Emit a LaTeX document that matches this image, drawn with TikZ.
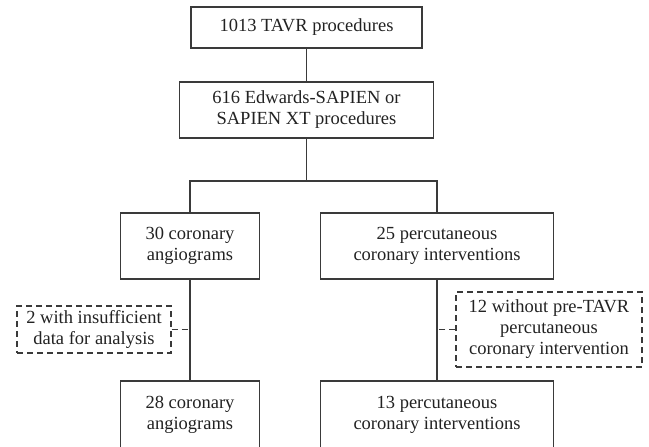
\documentclass[tikz,border=0pt]{standalone}
\usepackage{fontspec}
\setmainfont{Liberation Serif}
\definecolor{linegray}{HTML}{3A3A3A}
\definecolor{txtgray}{HTML}{222222}
\begin{document}
\begin{tikzpicture}[x=1pt,y=-1pt,
  every node/.style={font=\fontsize{18.5}{21}\selectfont, text=txtgray, align=center, inner sep=0pt},
  box/.style={draw=linegray, line width=1.1pt},
  dbox/.style={draw=linegray, line width=1.1pt, dash pattern=on 6pt off 4pt},
  conn/.style={draw=linegray, line width=1.1pt},
  dconn/.style={draw=linegray, line width=1.1pt, dash pattern=on 6pt off 4pt}]
\useasboundingbox (0,0) rectangle (649,447);
\clip (0,0) rectangle (649,447);
\node[box, minimum width=231pt, minimum height=41pt] (b1) at (306.5,27.5) {1013 TAVR procedures};
\node[box, minimum width=254pt, minimum height=56pt] (b2) at (306.5,110) {616 Edwards-SAPIEN or\\SAPIEN XT procedures};
\node[box, minimum width=139pt, minimum height=66pt] (b3) at (190,246) {30 coronary\\angiograms};
\node[box, minimum width=233pt, minimum height=66pt] (b4) at (437,246) {25 percutaneous\\coronary interventions};
\node[box, minimum width=139pt, minimum height=68pt] (b5) at (190,415) {28 coronary\\angiograms};
\node[box, minimum width=233pt, minimum height=68pt] (b6) at (437,415) {13 percutaneous\\coronary interventions};
\node[dbox, minimum width=154pt, minimum height=47pt] (d1) at (94,329.5) {2 with insufficient\\data for analysis};
\node[dbox, minimum width=186pt, minimum height=75pt] (d2) at (549,329.5) {12 without pre-TAVR\\percutaneous\\coronary intervention};
\coordinate (j) at (306.5,181);
\draw[conn] (b1.south) -- (b2.north);
\draw[conn] (b2.south) -- (j);
\draw[conn] (b3.north) |- (j) -| (b4.north);
\draw[conn] (b3.south) -- (b5.north);
\draw[conn] (b4.south) -- (b6.north);
\draw[dconn] (d1.east) -- (d1.east -| b3.south);
\draw[dconn] (d2.west) -- (d2.west -| b4.south);
\end{tikzpicture}
\end{document}
